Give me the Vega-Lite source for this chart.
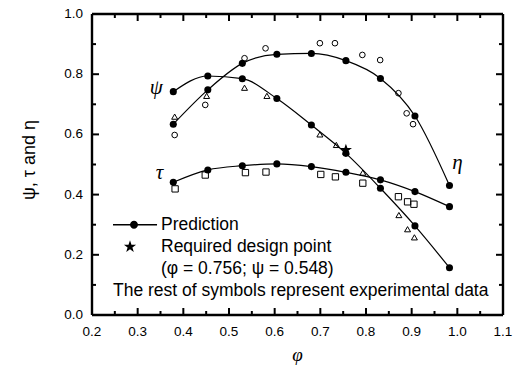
{
  "$schema": "https://vega.github.io/schema/vega-lite/v6.json",
  "width": 411,
  "height": 301,
  "autosize": {"type": "none"},
  "padding": {"left": 92, "top": 14, "right": 28, "bottom": 62},
  "background": "white",
  "config": {
    "view": {"stroke": null},
    "font": "Liberation Sans"
  },
  "datasets": {
    "pred": [
      {"phi": 0.378, "value": 0.742, "curve": "psi"},
      {"phi": 0.4536, "value": 0.794, "curve": "psi"},
      {"phi": 0.5292, "value": 0.785, "curve": "psi"},
      {"phi": 0.6048, "value": 0.719, "curve": "psi"},
      {"phi": 0.6804, "value": 0.631, "curve": "psi"},
      {"phi": 0.756, "value": 0.537, "curve": "psi"},
      {"phi": 0.8316, "value": 0.421, "curve": "psi"},
      {"phi": 0.9072, "value": 0.296, "curve": "psi"},
      {"phi": 0.9828, "value": 0.157, "curve": "psi"},
      {"phi": 0.378, "value": 0.441, "curve": "tau"},
      {"phi": 0.4536, "value": 0.482, "curve": "tau"},
      {"phi": 0.5292, "value": 0.496, "curve": "tau"},
      {"phi": 0.6048, "value": 0.502, "curve": "tau"},
      {"phi": 0.6804, "value": 0.493, "curve": "tau"},
      {"phi": 0.756, "value": 0.474, "curve": "tau"},
      {"phi": 0.8316, "value": 0.449, "curve": "tau"},
      {"phi": 0.9072, "value": 0.41, "curve": "tau"},
      {"phi": 0.9828, "value": 0.36, "curve": "tau"},
      {"phi": 0.378, "value": 0.634, "curve": "eta"},
      {"phi": 0.4536, "value": 0.748, "curve": "eta"},
      {"phi": 0.5292, "value": 0.836, "curve": "eta"},
      {"phi": 0.6048, "value": 0.866, "curve": "eta"},
      {"phi": 0.6804, "value": 0.869, "curve": "eta"},
      {"phi": 0.756, "value": 0.845, "curve": "eta"},
      {"phi": 0.8316, "value": 0.786, "curve": "eta"},
      {"phi": 0.9072, "value": 0.661, "curve": "eta"},
      {"phi": 0.9828, "value": 0.43, "curve": "eta"}
    ],
    "exp": [
      {"phi": 0.381, "value": 0.598, "series": "eta"},
      {"phi": 0.448, "value": 0.698, "series": "eta"},
      {"phi": 0.534, "value": 0.853, "series": "eta"},
      {"phi": 0.58, "value": 0.886, "series": "eta"},
      {"phi": 0.699, "value": 0.903, "series": "eta"},
      {"phi": 0.732, "value": 0.903, "series": "eta"},
      {"phi": 0.792, "value": 0.864, "series": "eta"},
      {"phi": 0.831, "value": 0.847, "series": "eta"},
      {"phi": 0.871, "value": 0.737, "series": "eta"},
      {"phi": 0.889, "value": 0.67, "series": "eta"},
      {"phi": 0.903, "value": 0.634, "series": "eta"},
      {"phi": 0.381, "value": 0.659, "series": "psi"},
      {"phi": 0.451, "value": 0.728, "series": "psi"},
      {"phi": 0.534, "value": 0.755, "series": "psi"},
      {"phi": 0.583, "value": 0.728, "series": "psi"},
      {"phi": 0.699, "value": 0.6, "series": "psi"},
      {"phi": 0.735, "value": 0.565, "series": "psi"},
      {"phi": 0.793, "value": 0.473, "series": "psi"},
      {"phi": 0.872, "value": 0.332, "series": "psi"},
      {"phi": 0.891, "value": 0.285, "series": "psi"},
      {"phi": 0.906, "value": 0.258, "series": "psi"},
      {"phi": 0.382, "value": 0.419, "series": "tau"},
      {"phi": 0.448, "value": 0.465, "series": "tau"},
      {"phi": 0.536, "value": 0.473, "series": "tau"},
      {"phi": 0.581, "value": 0.475, "series": "tau"},
      {"phi": 0.701, "value": 0.467, "series": "tau"},
      {"phi": 0.733, "value": 0.459, "series": "tau"},
      {"phi": 0.793, "value": 0.438, "series": "tau"},
      {"phi": 0.871, "value": 0.393, "series": "tau"},
      {"phi": 0.891, "value": 0.376, "series": "tau"},
      {"phi": 0.905, "value": 0.368, "series": "tau"}
    ],
    "star": [
      {"phi": 0.756, "value": 0.548, "key": "Required design point"}
    ],
    "labels": [
      {"phi": 0.341, "value": 0.754, "text": "ψ"},
      {"phi": 0.348, "value": 0.471, "text": "τ"},
      {"phi": 1.0, "value": 0.504, "text": "η"}
    ],
    "xticks": [
      {"pos": 0.2, "kind": "major"}, {"pos": 0.25, "kind": "minor"},
      {"pos": 0.3, "kind": "major"}, {"pos": 0.35, "kind": "minor"},
      {"pos": 0.4, "kind": "major"}, {"pos": 0.45, "kind": "minor"},
      {"pos": 0.5, "kind": "major"}, {"pos": 0.55, "kind": "minor"},
      {"pos": 0.6, "kind": "major"}, {"pos": 0.65, "kind": "minor"},
      {"pos": 0.7, "kind": "major"}, {"pos": 0.75, "kind": "minor"},
      {"pos": 0.8, "kind": "major"}, {"pos": 0.85, "kind": "minor"},
      {"pos": 0.9, "kind": "major"}, {"pos": 0.95, "kind": "minor"},
      {"pos": 1.0, "kind": "major"}, {"pos": 1.05, "kind": "minor"},
      {"pos": 1.1, "kind": "major"}
    ],
    "yticks": [
      {"pos": 0.0, "kind": "major"}, {"pos": 0.1, "kind": "minor"},
      {"pos": 0.2, "kind": "major"}, {"pos": 0.3, "kind": "minor"},
      {"pos": 0.4, "kind": "major"}, {"pos": 0.5, "kind": "minor"},
      {"pos": 0.6, "kind": "major"}, {"pos": 0.7, "kind": "minor"},
      {"pos": 0.8, "kind": "major"}, {"pos": 0.9, "kind": "minor"},
      {"pos": 1.0, "kind": "major"}
    ],
    "titles": [
      {"axis": "x", "title": "φ"},
      {"axis": "y", "title": "ψ, τ and η"}
    ]
  },
  "resolve": {"scale": {"shape": "independent", "size": "independent"}},
  "layer": [
    {
      "data": {"name": "pred"},
      "mark": {"type": "line", "interpolate": "monotone", "color": "black", "strokeWidth": 1.2},
      "encoding": {
        "x": {"field": "phi", "type": "quantitative", "scale": {"domain": [0.2, 1.1], "nice": false, "zero": false}, "axis": null},
        "y": {"field": "value", "type": "quantitative", "scale": {"domain": [0, 1], "nice": false}, "axis": null},
        "detail": {"field": "curve"}
      }
    },
    {
      "data": {"name": "xticks"},
      "layer": [
        {
          "mark": {"type": "line", "color": "black", "strokeWidth": 2.4},
          "encoding": {
            "x": {"field": "pos", "type": "quantitative", "axis": null},
            "y": {"datum": 0, "type": "quantitative", "axis": null}
          }
        },
        {
          "mark": {"type": "point", "shape": "M0,0L0,-1", "filled": false, "color": "black", "strokeWidth": 2, "opacity": 1},
          "encoding": {
            "x": {"field": "pos", "type": "quantitative", "axis": null},
            "y": {"datum": 0, "type": "quantitative", "axis": null},
            "size": {"field": "kind", "type": "nominal", "scale": {"domain": ["major", "minor"], "range": [196, 64]}, "legend": null}
          }
        },
        {
          "mark": {"type": "line", "color": "black", "strokeWidth": 2.4},
          "encoding": {
            "x": {"field": "pos", "type": "quantitative", "axis": null},
            "y": {"datum": 1, "type": "quantitative", "axis": null}
          }
        },
        {
          "mark": {"type": "point", "shape": "M0,0L0,1", "filled": false, "color": "black", "strokeWidth": 2, "opacity": 1},
          "encoding": {
            "x": {"field": "pos", "type": "quantitative", "axis": null},
            "y": {"datum": 1, "type": "quantitative", "axis": null},
            "size": {"field": "kind", "type": "nominal", "scale": {"domain": ["major", "minor"], "range": [196, 64]}, "legend": null}
          }
        },
        {
          "transform": [{"filter": "datum.kind == 'major'"}],
          "mark": {"type": "text", "font": "Liberation Sans", "fontSize": 13.5, "color": "black", "align": "center", "baseline": "middle", "dy": 17},
          "encoding": {
            "x": {"field": "pos", "type": "quantitative", "axis": null},
            "y": {"datum": 0, "type": "quantitative", "axis": null},
            "text": {"field": "pos", "type": "quantitative", "format": ".1f"}
          }
        }
      ]
    },
    {
      "data": {"name": "yticks"},
      "layer": [
        {
          "mark": {"type": "line", "color": "black", "strokeWidth": 2.4},
          "encoding": {
            "x": {"datum": 0.2, "type": "quantitative", "axis": null},
            "y": {"field": "pos", "type": "quantitative", "axis": null},
            "order": {"field": "pos"}
          }
        },
        {
          "mark": {"type": "point", "shape": "M0,0L1,0", "filled": false, "color": "black", "strokeWidth": 2, "opacity": 1},
          "encoding": {
            "x": {"datum": 0.2, "type": "quantitative", "axis": null},
            "y": {"field": "pos", "type": "quantitative", "axis": null},
            "size": {"field": "kind", "type": "nominal", "scale": {"domain": ["major", "minor"], "range": [196, 64]}, "legend": null}
          }
        },
        {
          "mark": {"type": "line", "color": "black", "strokeWidth": 2.4},
          "encoding": {
            "x": {"datum": 1.1, "type": "quantitative", "axis": null},
            "y": {"field": "pos", "type": "quantitative", "axis": null},
            "order": {"field": "pos"}
          }
        },
        {
          "mark": {"type": "point", "shape": "M0,0L-1,0", "filled": false, "color": "black", "strokeWidth": 2, "opacity": 1},
          "encoding": {
            "x": {"datum": 1.1, "type": "quantitative", "axis": null},
            "y": {"field": "pos", "type": "quantitative", "axis": null},
            "size": {"field": "kind", "type": "nominal", "scale": {"domain": ["major", "minor"], "range": [196, 64]}, "legend": null}
          }
        },
        {
          "transform": [{"filter": "datum.kind == 'major'"}],
          "mark": {"type": "text", "font": "Liberation Sans", "fontSize": 13.5, "color": "black", "align": "right", "baseline": "middle", "dx": -9},
          "encoding": {
            "x": {"datum": 0.2, "type": "quantitative", "axis": null},
            "y": {"field": "pos", "type": "quantitative", "axis": null},
            "text": {"field": "pos", "type": "quantitative", "format": ".1f"}
          }
        }
      ]
    },
    {
      "data": {"name": "titles"},
      "layer": [
        {
          "transform": [{"filter": "datum.axis == 'x'"}],
          "mark": {"type": "text", "font": "Liberation Serif", "fontStyle": "italic", "fontSize": 19, "color": "black", "align": "center", "baseline": "middle", "dy": 40},
          "encoding": {
            "x": {"datum": 0.65, "type": "quantitative", "axis": null},
            "y": {"datum": 0, "type": "quantitative", "axis": null},
            "text": {"field": "title"}
          }
        },
        {
          "transform": [{"filter": "datum.axis == 'y'"}],
          "mark": {"type": "text", "font": "Liberation Sans", "fontSize": 18, "color": "black", "align": "center", "baseline": "middle", "angle": 270, "dy": -62},
          "encoding": {
            "x": {"datum": 0.2, "type": "quantitative", "axis": null},
            "y": {"datum": 0.515, "type": "quantitative", "axis": null},
            "text": {"field": "title"}
          }
        }
      ]
    },
    {
      "data": {"name": "pred"},
      "mark": {"type": "point", "filled": true, "color": "black", "size": 50, "opacity": 1},
      "encoding": {
        "x": {"field": "phi", "type": "quantitative", "axis": null},
        "y": {"field": "value", "type": "quantitative", "axis": null}
      }
    },
    {
      "data": {"name": "exp"},
      "mark": {"type": "point", "filled": false, "color": "black", "strokeWidth": 1, "opacity": 1},
      "encoding": {
        "x": {"field": "phi", "type": "quantitative", "axis": null},
        "y": {"field": "value", "type": "quantitative", "axis": null},
        "shape": {
          "field": "series", "type": "nominal",
          "scale": {"domain": ["eta", "psi", "tau"], "range": ["circle", "triangle-up", "square"]},
          "legend": null
        },
        "size": {
          "field": "series", "type": "nominal",
          "scale": {"domain": ["eta", "psi", "tau"], "range": [32, 40, 30]},
          "legend": null
        }
      }
    },
    {
      "data": {"name": "star"},
      "mark": {"type": "point", "filled": true, "color": "black", "size": 1000, "opacity": 1},
      "encoding": {
        "x": {"field": "phi", "type": "quantitative", "axis": null},
        "y": {"field": "value", "type": "quantitative", "axis": null},
        "shape": {
          "field": "key", "type": "nominal",
          "scale": {
            "domain": ["Prediction", "Required design point", "(φ = 0.756; ψ = 0.548)"],
            "range": [
              "M-1.2,-0.04L1.71,-0.04L1.71,0.04L-1.2,0.04ZM0.506,0A0.253,0.253,0,1,1,0,0A0.253,0.253,0,1,1,0.506,0Z",
              "M0,-0.405L0.094,-0.129L0.385,-0.125L0.152,0.049L0.238,0.328L0,0.16L-0.238,0.328L-0.152,0.049L-0.385,-0.125L-0.094,-0.129Z",
              "M0,0"
            ]
          },
          "legend": {
            "orient": "none", "legendX": 21, "legendY": 201, "padding": 0,
            "direction": "vertical", "clipHeight": 19.5, "rowPadding": 2,
            "title": "The rest of symbols represent experimental data",
            "titleOrient": "bottom", "titleAnchor": "start", "titleFont": "Liberation Sans",
            "titleFontWeight": "normal", "titleFontSize": 17.5, "titleColor": "black", "titleLimit": 600, "titlePadding": 3,
            "labelFont": "Liberation Sans", "labelFontSize": 17.5, "labelColor": "black", "labelLimit": 600, "labelOffset": 14,
            "symbolFillColor": "black", "symbolSize": 1000
          }
        }
      }
    },
    {
      "data": {"name": "labels"},
      "mark": {"type": "text", "font": "Liberation Serif", "fontStyle": "italic", "fontSize": 21, "color": "black", "align": "center", "baseline": "middle"},
      "encoding": {
        "x": {"field": "phi", "type": "quantitative", "axis": null},
        "y": {"field": "value", "type": "quantitative", "axis": null},
        "text": {"field": "text"}
      }
    }
  ]
}
